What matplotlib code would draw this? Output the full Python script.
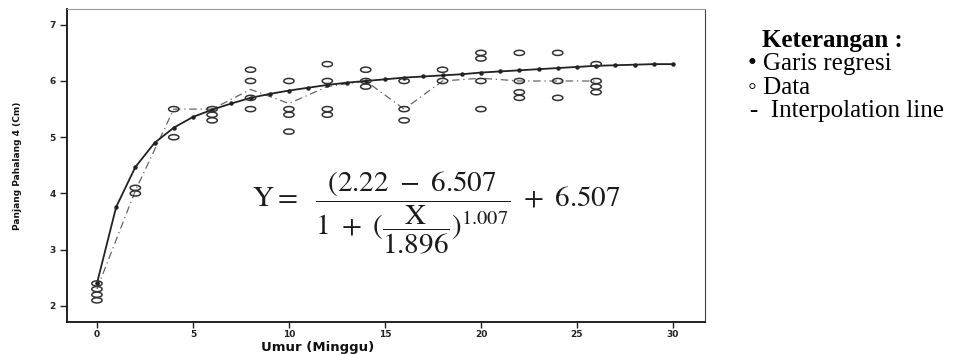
import matplotlib
matplotlib.use("Agg")
import matplotlib.pyplot as plt
import numpy as np
from matplotlib.path import Path

# ---- data ----
data_x = [0, 0, 0, 0,
          2, 2,
          4, 4,
          6, 6, 6,
          8, 8, 8, 8,
          10, 10, 10, 10,
          12, 12, 12, 12,
          14, 14, 14,
          16, 16, 16,
          18, 18,
          20, 20, 20, 20,
          22, 22, 22, 22,
          24, 24, 24,
          26, 26, 26, 26]
data_y = [2.4, 2.3, 2.2, 2.1,
          4.1, 4.0,
          5.5, 5.0,
          5.5, 5.4, 5.3,
          6.2, 6.0, 5.7, 5.5,
          6.0, 5.5, 5.4, 5.1,
          6.3, 6.0, 5.5, 5.4,
          6.2, 6.0, 5.9,
          6.0, 5.5, 5.3,
          6.2, 6.0,
          6.5, 6.4, 6.0, 5.5,
          6.5, 6.0, 5.8, 5.7,
          6.5, 6.0, 5.7,
          6.3, 6.0, 5.9, 5.8]

interp_x = [0, 2, 4, 6, 8, 10, 12, 14, 16, 18, 20, 22, 24, 26]
interp_y = [2.3, 4.05, 5.5, 5.5, 5.85, 5.6, 5.9, 6.0, 5.5, 6.0, 6.05, 6.0, 6.0, 6.0]

reg_x = list(range(0, 31))
reg_y = [2.40, 3.76, 4.47, 4.90, 5.17, 5.36, 5.49, 5.60, 5.70, 5.77,
         5.83, 5.88, 5.93, 5.97, 6.00, 6.03, 6.06, 6.08, 6.10, 6.12,
         6.15, 6.17, 6.19, 6.21, 6.23, 6.25, 6.27, 6.28, 6.29, 6.30, 6.30]

x_ticks = [0, 5, 10, 15, 20, 25, 30]
y_ticks = [2, 3, 4, 5, 6, 7]

W, H = 969, 354
fig = plt.figure(figsize=(W / 100, H / 100), dpi=100)
ax = fig.add_axes([67 / W, 1 - 322 / H, (705 - 67) / W, (322 - 9) / H])

# oval marker
t = np.linspace(0, 2 * np.pi, 40)
oval = Path(np.column_stack([np.cos(t), 0.5 * np.sin(t)]))

ax.plot(reg_x, reg_y, color="#222222", lw=1.3, marker="o", ms=2.2,
        zorder=3)
ax.plot(interp_x, interp_y, color="#666666", lw=0.9, ls=(0, (6, 3, 1, 3)),
        zorder=2)
ax.scatter(data_x, data_y, marker=oval, s=55, facecolors="none",
           edgecolors="#333333", linewidths=1.1, zorder=4)

ax.set_xlim(-1.56, 31.67)
ax.set_ylim(1.715, 7.28)
ax.set_xticks(x_ticks)
ax.set_yticks(y_ticks)
ax.tick_params(axis="both", length=5, width=1, labelsize=6.5, colors="#222222",
               pad=3)
ax.tick_params(axis="x", length=4, pad=1.5)
for lab in ax.get_xticklabels() + ax.get_yticklabels():
    lab.set_fontweight("bold")
for side in ["left", "bottom"]:
    ax.spines[side].set_color("#111111")
    ax.spines[side].set_linewidth(1.3)
ax.spines["top"].set_color("#999999")
ax.spines["right"].set_color("#444444")

fig.text(318 / W, 0.5 / H, "Umur (Minggu)", fontsize=9.5, fontweight="bold",
         ha="center", va="bottom", color="#111111")
ax.set_ylabel("Panjang Pahalang 4 (Cm)", fontsize=6.5, fontweight="bold",
              labelpad=20, color="#111111")

# equation
plt.rcParams["mathtext.fontset"] = "stix"
fig.text(252 / W, 1 - 213 / H,
         r"$\mathrm{Y} =\ \ \dfrac{(2.22\ -\ 6.507}{1\ +\ (\dfrac{\mathrm{X}}{1.896})^{1.007}}\ +\ 6.507$",
         fontsize=21, ha="left", va="center", color="#1a1a1a")

# legend text
serif = ["Liberation Serif", "DejaVu Serif"]
fig.text(762 / W, 1 - 47 / H, "Keterangan :", fontsize=18, fontweight="bold",
         family=serif, ha="left", va="baseline")
fig.text(748 / W, 1 - 70 / H, "\u2022 Garis regresi", fontsize=18,
         family=serif, ha="left", va="baseline")
fig.text(748 / W, 1 - 94 / H, "\u25e6 Data", fontsize=18,
         family=serif, ha="left", va="baseline")
fig.text(750 / W, 1 - 117 / H, "-  Interpolation line", fontsize=18,
         family=serif, ha="left", va="baseline")

fig.savefig("out.png", dpi=100)
